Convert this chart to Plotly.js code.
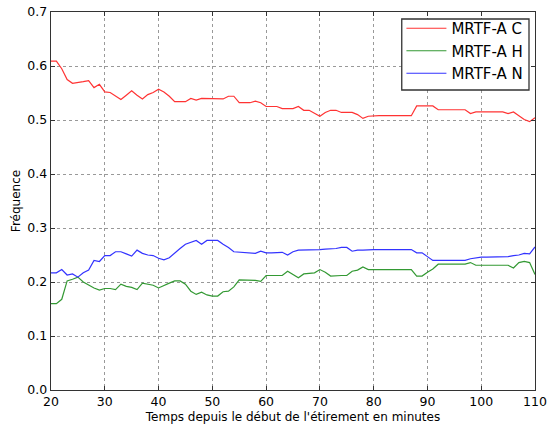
<!DOCTYPE html>
<html>
<head>
<meta charset="utf-8">
<script src="https://cdn.plot.ly/plotly-3.0.1.min.js"></script>
<style>html,body{margin:0;padding:0;background:#fff;}#chart{width:548px;height:429px;}</style>
</head>
<body>
<div id="chart"></div>
<script>
const minutes = [];
for (let m = 20; m <= 110; m++) minutes.push(m);

const xTicks = [20,30,40,50,60,70,80,90,100,110];
const yTicks = [0,0.1,0.2,0.3,0.4,0.5,0.6,0.7];
const yTickLabels = ['0.0','0.1','0.2','0.3','0.4','0.5','0.6','0.7'];

const mrtfC = [
  0.609,0.609,0.595,0.575,0.568,0.569,0.571,0.573,0.560,0.566,
  0.552,0.551,0.545,0.538,0.546,0.554,0.546,0.539,0.547,0.551,
  0.557,0.552,0.544,0.534,0.534,0.534,0.540,0.537,0.540,0.540,
  0.539,0.539,0.539,0.544,0.544,0.532,0.532,0.532,0.535,0.532,
  0.525,0.525,0.525,0.521,0.521,0.521,0.525,0.518,0.518,0.512,
  0.507,0.514,0.518,0.518,0.514,0.514,0.514,0.510,0.503,0.507,
  0.508,0.508,0.508,0.508,0.508,0.508,0.508,0.508,0.526,0.526,
  0.526,0.526,0.519,0.519,0.519,0.519,0.519,0.519,0.512,0.515,
  0.515,0.515,0.515,0.515,0.515,0.512,0.515,0.508,0.501,0.497,
  0.504
];

const mrtfH = [
  0.160,0.160,0.168,0.202,0.205,0.209,0.200,0.194,0.189,0.185,
  0.188,0.188,0.186,0.196,0.192,0.190,0.186,0.198,0.196,0.194,
  0.189,0.194,0.198,0.202,0.202,0.196,0.183,0.177,0.181,0.176,
  0.174,0.174,0.182,0.183,0.191,0.204,0.204,0.204,0.203,0.201,
  0.212,0.212,0.212,0.212,0.220,0.214,0.208,0.215,0.216,0.217,
  0.223,0.218,0.211,0.212,0.212,0.212,0.220,0.222,0.228,0.223,
  0.223,0.223,0.223,0.223,0.223,0.223,0.223,0.223,0.211,0.211,
  0.218,0.224,0.233,0.233,0.233,0.233,0.233,0.233,0.236,0.231,
  0.231,0.231,0.231,0.231,0.231,0.231,0.226,0.236,0.238,0.236,
  0.214
];

const mrtfN = [
  0.217,0.217,0.223,0.213,0.215,0.209,0.217,0.222,0.240,0.238,
  0.249,0.249,0.256,0.256,0.252,0.248,0.259,0.253,0.250,0.249,
  0.244,0.241,0.245,0.254,0.262,0.270,0.273,0.277,0.270,0.277,
  0.277,0.277,0.270,0.264,0.256,0.255,0.255,0.254,0.253,0.257,
  0.254,0.254,0.255,0.255,0.250,0.256,0.259,0.259,0.259,0.260,
  0.260,0.261,0.261,0.262,0.264,0.264,0.257,0.259,0.259,0.260,
  0.260,0.260,0.260,0.260,0.260,0.260,0.260,0.260,0.254,0.254,
  0.247,0.240,0.240,0.240,0.240,0.240,0.240,0.240,0.243,0.245,
  0.246,0.246,0.246,0.246,0.246,0.247,0.249,0.250,0.253,0.252,
  0.265
];

const seriesNames = ['MRTF-A C','MRTF-A H','MRTF-A N'];
const seriesColors = ['rgb(255,51,51)','rgb(51,153,51)','rgb(51,51,255)'];
const seriesData = [mrtfC, mrtfH, mrtfN];

const traces = seriesData.map((ys, i) => ({
  x: minutes, y: ys, type: 'scatter', mode: 'lines',
  name: seriesNames[i],
  line: {color: seriesColors[i], width: 1.2}
}));

const axisCommon = {
  showline: true, linecolor: '#333', linewidth: 1.3, mirror: 'ticks',
  ticks: 'inside', ticklen: 4, tickcolor: '#333',
  showgrid: true, gridcolor: '#999', griddash: 'dot', gridwidth: 1,
  zeroline: false, ticklabeloverflow: 'allow',
  tickfont: {family: 'DejaVu Sans', size: 12.5, color: '#000'}
};

const layout = {
  width: 548, height: 429,
  margin: {l: 51, r: 13, t: 12, b: 39},
  paper_bgcolor: '#fff', plot_bgcolor: '#fff',
  font: {family: 'DejaVu Sans', color: '#000'},
  xaxis: Object.assign({}, axisCommon, {
    range: [20, 110], tickmode: 'array', tickvals: xTicks,
    ticktext: xTicks.map(String),
    title: {text: "Temps depuis le début de l'étirement en minutes", font: {size: 12}, standoff: 4}
  }),
  yaxis: Object.assign({}, axisCommon, {
    range: [0, 0.7], tickmode: 'array', tickvals: yTicks, ticktext: yTickLabels,
    title: {text: 'Fréquence', font: {size: 12}, standoff: 4}
  }),
  showlegend: true,
  legend: {
    x: 0.724, y: 1.0, xanchor: 'left', yanchor: 'top',
    bgcolor: 'rgba(0,0,0,0)', borderwidth: 0,
    font: {family: 'DejaVu Sans', size: 15, color: '#000'},
    tracegroupgap: 0, itemwidth: 40
  },
  shapes: [{
    type: 'rect', xref: 'paper', yref: 'paper', layer: 'above',
    x0: 0.7247, x1: 0.9876, y0: 0.7937, y1: 0.9815,
    fillcolor: '#fff', line: {color: '#333', width: 1.3}
  }]
};

Plotly.newPlot('chart', traces, layout, {displayModeBar: false, staticPlot: true});
</script>
</body>
</html>
